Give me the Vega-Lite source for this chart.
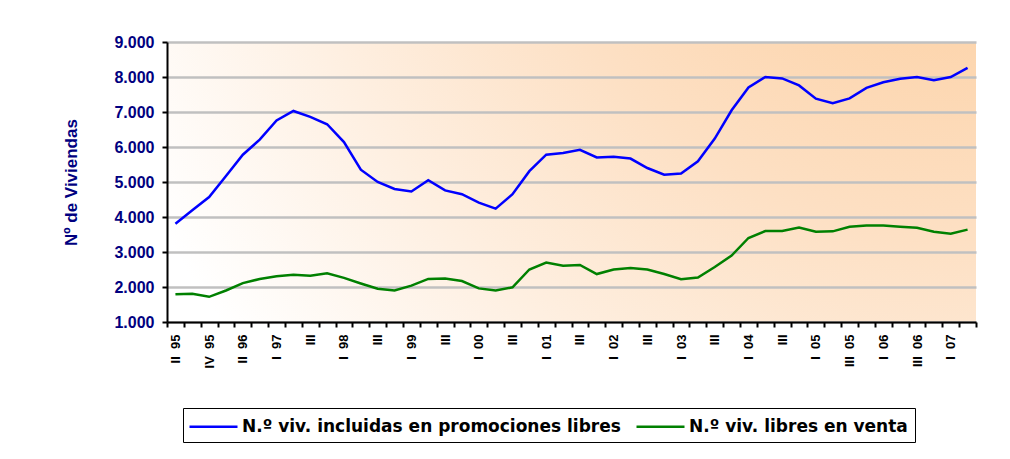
{
  "$schema": "https://vega.github.io/schema/vega-lite/v6.json",
  "width": 809,
  "height": 280,
  "autosize": {"type": "none"},
  "padding": {"left": 167, "top": 42, "right": 34, "bottom": 137},
  "background": "white",
  "config": {
    "font": "Liberation Sans",
    "view": {
      "stroke": null,
      "fill": {
        "gradient": "radial",
        "x1": 1, "y1": 0, "r1": 0,
        "x2": 1, "y2": 0, "r2": 1.15,
        "stops": [
          {"offset": 0, "color": "#FCC892"},
          {"offset": 0.5, "color": "#FDE0C4"},
          {"offset": 1, "color": "#FFFFFF"}
        ]
      }
    }
  },
  "datasets": {
    "d": [
      {"periodo": "II 95", "serie": "A", "valor": 3810},
      {"periodo": "III 95", "serie": "A", "valor": 4190},
      {"periodo": "IV 95", "serie": "A", "valor": 4570},
      {"periodo": "I 96", "serie": "A", "valor": 5170},
      {"periodo": "II 96", "serie": "A", "valor": 5780},
      {"periodo": "IV 96", "serie": "A", "valor": 6210},
      {"periodo": "I 97", "serie": "A", "valor": 6760},
      {"periodo": "II 97", "serie": "A", "valor": 7030},
      {"periodo": "III 97", "serie": "A", "valor": 6860},
      {"periodo": "IV 97", "serie": "A", "valor": 6650},
      {"periodo": "I 98", "serie": "A", "valor": 6140},
      {"periodo": "II 98", "serie": "A", "valor": 5350},
      {"periodo": "III 98", "serie": "A", "valor": 5000},
      {"periodo": "IV 98", "serie": "A", "valor": 4800},
      {"periodo": "I 99", "serie": "A", "valor": 4730},
      {"periodo": "II 99", "serie": "A", "valor": 5050},
      {"periodo": "III 99", "serie": "A", "valor": 4760},
      {"periodo": "IV 99", "serie": "A", "valor": 4650},
      {"periodo": "I 00", "serie": "A", "valor": 4410},
      {"periodo": "II 00", "serie": "A", "valor": 4240},
      {"periodo": "III 00", "serie": "A", "valor": 4650},
      {"periodo": "IV 00", "serie": "A", "valor": 5310},
      {"periodo": "I 01", "serie": "A", "valor": 5780},
      {"periodo": "II 01", "serie": "A", "valor": 5830},
      {"periodo": "III 01", "serie": "A", "valor": 5920},
      {"periodo": "IV 01", "serie": "A", "valor": 5700},
      {"periodo": "I 02", "serie": "A", "valor": 5720},
      {"periodo": "II 02", "serie": "A", "valor": 5670},
      {"periodo": "III 02", "serie": "A", "valor": 5400},
      {"periodo": "IV 02", "serie": "A", "valor": 5210},
      {"periodo": "I 03", "serie": "A", "valor": 5240},
      {"periodo": "II 03", "serie": "A", "valor": 5590},
      {"periodo": "III 03", "serie": "A", "valor": 6240},
      {"periodo": "IV 03", "serie": "A", "valor": 7050},
      {"periodo": "I 04", "serie": "A", "valor": 7700},
      {"periodo": "II 04", "serie": "A", "valor": 8000},
      {"periodo": "III 04", "serie": "A", "valor": 7960},
      {"periodo": "IV 04", "serie": "A", "valor": 7760},
      {"periodo": "I 05", "serie": "A", "valor": 7380},
      {"periodo": "II 05", "serie": "A", "valor": 7250},
      {"periodo": "III 05", "serie": "A", "valor": 7390},
      {"periodo": "IV 05", "serie": "A", "valor": 7690},
      {"periodo": "I 06", "serie": "A", "valor": 7850},
      {"periodo": "II 06", "serie": "A", "valor": 7950},
      {"periodo": "III 06", "serie": "A", "valor": 8000},
      {"periodo": "IV 06", "serie": "A", "valor": 7910},
      {"periodo": "I 07", "serie": "A", "valor": 8000},
      {"periodo": "II 07", "serie": "A", "valor": 8260},
      {"periodo": "II 95", "serie": "B", "valor": 1790},
      {"periodo": "III 95", "serie": "B", "valor": 1810},
      {"periodo": "IV 95", "serie": "B", "valor": 1720},
      {"periodo": "I 96", "serie": "B", "valor": 1900},
      {"periodo": "II 96", "serie": "B", "valor": 2110},
      {"periodo": "IV 96", "serie": "B", "valor": 2230},
      {"periodo": "I 97", "serie": "B", "valor": 2310},
      {"periodo": "II 97", "serie": "B", "valor": 2350},
      {"periodo": "III 97", "serie": "B", "valor": 2320},
      {"periodo": "IV 97", "serie": "B", "valor": 2390},
      {"periodo": "I 98", "serie": "B", "valor": 2260},
      {"periodo": "II 98", "serie": "B", "valor": 2100},
      {"periodo": "III 98", "serie": "B", "valor": 1950},
      {"periodo": "IV 98", "serie": "B", "valor": 1900},
      {"periodo": "I 99", "serie": "B", "valor": 2040},
      {"periodo": "II 99", "serie": "B", "valor": 2230},
      {"periodo": "III 99", "serie": "B", "valor": 2240},
      {"periodo": "IV 99", "serie": "B", "valor": 2170},
      {"periodo": "I 00", "serie": "B", "valor": 1960},
      {"periodo": "II 00", "serie": "B", "valor": 1900},
      {"periodo": "III 00", "serie": "B", "valor": 1990},
      {"periodo": "IV 00", "serie": "B", "valor": 2500},
      {"periodo": "I 01", "serie": "B", "valor": 2700},
      {"periodo": "II 01", "serie": "B", "valor": 2610},
      {"periodo": "III 01", "serie": "B", "valor": 2630},
      {"periodo": "IV 01", "serie": "B", "valor": 2370},
      {"periodo": "I 02", "serie": "B", "valor": 2500},
      {"periodo": "II 02", "serie": "B", "valor": 2540},
      {"periodo": "III 02", "serie": "B", "valor": 2500},
      {"periodo": "IV 02", "serie": "B", "valor": 2370},
      {"periodo": "I 03", "serie": "B", "valor": 2220},
      {"periodo": "II 03", "serie": "B", "valor": 2270},
      {"periodo": "III 03", "serie": "B", "valor": 2570},
      {"periodo": "IV 03", "serie": "B", "valor": 2900},
      {"periodo": "I 04", "serie": "B", "valor": 3400},
      {"periodo": "II 04", "serie": "B", "valor": 3600},
      {"periodo": "III 04", "serie": "B", "valor": 3600},
      {"periodo": "IV 04", "serie": "B", "valor": 3700},
      {"periodo": "I 05", "serie": "B", "valor": 3580},
      {"periodo": "II 05", "serie": "B", "valor": 3590},
      {"periodo": "III 05", "serie": "B", "valor": 3720},
      {"periodo": "IV 05", "serie": "B", "valor": 3760},
      {"periodo": "I 06", "serie": "B", "valor": 3760},
      {"periodo": "II 06", "serie": "B", "valor": 3720},
      {"periodo": "III 06", "serie": "B", "valor": 3690},
      {"periodo": "IV 06", "serie": "B", "valor": 3580},
      {"periodo": "I 07", "serie": "B", "valor": 3520},
      {"periodo": "II 07", "serie": "B", "valor": 3640}
    ]
  },
  "data": {"name": "d"},
  "mark": {"type": "line", "strokeWidth": 2.5},
  "encoding": {
    "x": {
      "field": "periodo",
      "type": "ordinal",
      "sort": null,
      "scale": {"type": "band", "paddingInner": 0, "paddingOuter": 0},
      "axis": {
        "title": null,
        "tickBand": "extent",
        "labelAngle": -90,
        "labelExpr": "indexof(['II 95','IV 95','II 96','I 97','I 98','I 99','I 00','I 01','I 02','I 03','I 04','I 05','III 05','I 06','III 06','I 07'], datum.value) >= 0 ? replace(datum.value, ' ', '\u00a0\u00a0') : (indexof(['III 97','III 98','III 99','III 00','III 01','III 02','III 03','III 04'], datum.value) >= 0 ? 'III' : '')",
        "labelFont": "Liberation Sans",
        "labelFontSize": 13,
        "labelFontWeight": "bold",
        "labelColor": "black",
        "labelOverlap": false,
        "labelPadding": 7,
        "domainColor": "black",
        "domainWidth": 2,
        "tickColor": "black",
        "tickWidth": 2,
        "tickSize": 5,
        "grid": false
      }
    },
    "y": {
      "field": "valor",
      "type": "quantitative",
      "scale": {"domain": [1000, 9000], "nice": false, "zero": false},
      "axis": {
        "title": "Nº de Viviendas",
        "values": [1000, 2000, 3000, 4000, 5000, 6000, 7000, 8000, 9000],
        "labelExpr": "replace(format(datum.value, ',.0f'), ',', '.')",
        "labelFont": "Liberation Sans",
        "labelFontSize": 16,
        "labelFontWeight": "bold",
        "labelColor": "#000080",
        "labelPadding": 8,
        "titleFont": "Liberation Sans",
        "titleFontSize": 17,
        "titleFontWeight": "bold",
        "titleColor": "#000080",
        "titlePadding": 33,
        "domainColor": "black",
        "domainWidth": 2,
        "tickColor": "black",
        "tickWidth": 2,
        "tickSize": 5,
        "gridColor": "#C0C0C0",
        "gridWidth": 2.5
      }
    },
    "color": {
      "field": "serie",
      "type": "nominal",
      "scale": {"domain": ["A", "B"], "range": ["#0000FF", "#008000"]},
      "legend": {
        "title": null,
        "orient": "none",
        "legendX": 16,
        "legendY": 366,
        "direction": "horizontal",
        "labelExpr": "datum.value == 'A' ? 'N.º viv. incluidas en promociones libres' : 'N.º viv. libres en venta'",
        "symbolType": "M-2.4,0H2.4",
        "symbolSize": 400,
        "symbolOffset": 12,
        "symbolStrokeWidth": 2.5,
        "labelFont": "DejaVu Sans",
        "labelFontSize": 17,
        "labelFontWeight": "bold",
        "labelColor": "black",
        "labelLimit": 600,
        "labelOffset": 17,
        "columnPadding": 10,
        "padding": 7,
        "strokeColor": "black",
        "fillColor": "white"
      }
    }
  }
}
